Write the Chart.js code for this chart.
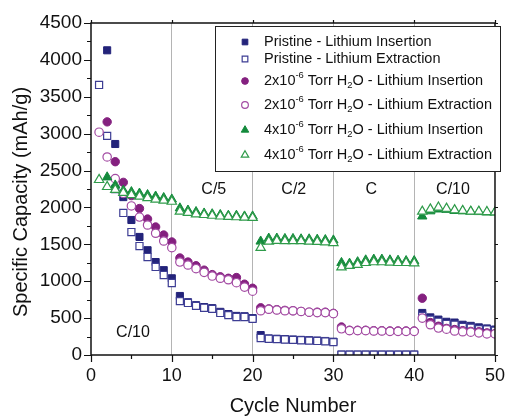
<!DOCTYPE html>
<html>
<head>
<meta charset="utf-8">
<script src="https://cdn.jsdelivr.net/npm/chart.js@4/dist/chart.umd.min.js"></script>
<style>
  html, body { margin: 0; padding: 0; background: #fff; }
  #wrap { width: 515px; height: 416px; position: relative; }
</style>
</head>
<body>
<div id="wrap"><canvas id="chart"></canvas></div>
<script>
// Capacity vs cycle number

const cycles = [];
for (let c = 1; c <= 50; c++) cycles.push(c);

const xTicks = [0, 10, 20, 30, 40, 50];
const yTicks = [0, 500, 1000, 1500, 2000, 2500, 3000, 3500, 4000, 4500];

const seriesNames = [
    'Pristine - Lithium Insertion',
    'Pristine - Lithium Extraction',
    '2x10-6 Torr H2O - Lithium Insertion',
    '2x10-6 Torr H2O - Lithium Extraction',
    '4x10-6 Torr H2O - Lithium Insertion',
    '4x10-6 Torr H2O - Lithium Extraction',
];

// values for cycles 1..50 (null = not shown)
const pristineInsertion = [
    null, 4130, 2860, 2140, 1830, 1600, 1420, 1260, 1150, 1040,
    800, 715, 675, 650, 635, 585, 555, 530, 525, 500,
    270, 225, 220, 215, 210, 205, 200, 195, 190, 180,
    5, 5, 5, 5, 5, 5, 5, 5, 5, 5,
    570, 510, 480, 450, 440, 410, 395, 375, 360, 345,
];
const pristineExtraction = [
    3660, 2970, 2250, 1925, 1667, 1477, 1328, 1193, 1084, 976,
    730, 705, 665, 640, 625, 570, 540, 515, 515, 490,
    230, 220, 215, 210, 205, 200, 195, 190, 185, 175,
    5, 5, 5, 5, 5, 5, 5, 5, 5, 5,
    530, 480, 450, 420, 410, 380, 370, 350, 345, 330,
];
const h2o2Insertion = [
    null, 3160, 2620, 2340, 2160, 1985, 1843, 1735, 1626, 1532,
    1315, 1260, 1210, 1150, 1090, 1060, 1040, 1050, 960, 905,
    640, 625, 615, 605, 600, 590, 580, 580, 580, 565,
    380, 335, 335, 335, 330, 330, 325, 325, 325, 325,
    770, 440, 390, 360, 345, 330, 320, 315, 300, 290,
];
const h2o2Extraction = [
    3020, 2684, 2390, 2190, 2020, 1870, 1762, 1650, 1545, 1455,
    1260, 1220, 1170, 1120, 1070, 1040, 1020, 980, 920, 865,
    600, 620, 610, 600, 600, 590, 580, 575, 575, 560,
    355, 330, 330, 330, 325, 325, 320, 320, 320, 320,
    500, 410, 365, 350, 325, 315, 310, 300, 285, 285,
];
const h2o4Insertion = [
    null, 2410, 2300, 2230, 2210, 2190, 2170, 2150, 2130, 2110,
    1990, 1960, 1940, 1920, 1910, 1900, 1890, 1890, 1880, 1880,
    1540, 1580, 1580, 1575, 1575, 1570, 1570, 1565, 1560, 1555,
    1250, 1240, 1260, 1285, 1295, 1295, 1285, 1280, 1275, 1275,
    1880, 1950, 1975, 1970, 1955, 1950, 1945, 1940, 1935, 1935,
];
const h2o4Extraction = [
    2375, 2280, 2240, 2200, 2170, 2150, 2130, 2110, 2095, 2080,
    1945, 1930, 1910, 1900, 1890, 1880, 1875, 1870, 1865, 1860,
    1455, 1540, 1550, 1545, 1545, 1545, 1540, 1535, 1530, 1520,
    1190, 1210, 1225, 1250, 1260, 1260, 1255, 1250, 1250, 1245,
    1945, 1975, 2000, 1985, 1965, 1955, 1945, 1945, 1940, 1935,
];

// rate labels: [text, cycle, capacity]
const rateLabels = [
    ['C/10', 5.2, 300],
    ['C/5', 15.2, 2240],
    ['C/2', 25.1, 2240],
    ['C', 34.7, 2240],
    ['C/10', 44.8, 2240],
];

const NAVY = '#23237a';
const PURPLE = '#84207f';
const GREEN = '#138a3c';
const FONT = '"Liberation Sans", Arial, sans-serif';

const styles = [
    { style: 'rect', fill: NAVY, stroke: NAVY, r: 5, bw: 1 },
    { style: 'rect', fill: '#ffffff', stroke: '#3d3d94', r: 5, bw: 1.2 },
    { style: 'circle', fill: PURPLE, stroke: PURPLE, r: 4.2, bw: 1 },
    { style: 'circle', fill: '#ffffff', stroke: '#a34ba3', r: 4.2, bw: 1.2 },
    { style: 'triangle', fill: GREEN, stroke: GREEN, r: 5.4, bw: 1 },
    { style: 'triangle', fill: '#ffffff', stroke: '#2f9b4a', r: 5.4, bw: 1.2 },
];

const allSeries = [pristineInsertion, pristineExtraction, h2o2Insertion,
    h2o2Extraction, h2o4Insertion, h2o4Extraction];

function toPoints(values) {
    const pts = [];
    values.forEach((v, i) => {
        if (v !== null) pts.push({ x: cycles[i], y: v });
    });
    return pts;
}

// Draw a string made of segments, supporting super/subscripts
function drawRich(ctx, x, y, parts, size) {
    let cx = x;
    for (const p of parts) {
        const s = p.small ? size * 0.65 : size;
        ctx.font = `${s}px ${FONT}`;
        const dy = p.sup ? -size * 0.42 : (p.sub ? size * 0.3 : 0);
        ctx.fillText(p.t, cx, y + dy);
        cx += ctx.measureText(p.t).width;
    }
}

function legendParts(i) {
    const pre = i < 2 ? null : (i < 4 ? '2x10' : '4x10');
    const tail = i % 2 === 0 ? ' - Lithium Insertion' : ' - Lithium Extraction';
    if (!pre) return [{ t: 'Pristine' + tail }];
    return [
        { t: pre },
        { t: '-6', small: true, sup: true },
        { t: ' Torr H' },
        { t: '2', small: true, sub: true },
        { t: 'O' + tail },
    ];
}

const framePlugin = {
    id: 'frame',
    afterDatasetsDraw(chart) {
        const ctx = chart.ctx;
        const a = chart.chartArea;
        const xs = chart.scales.x;
        const ys = chart.scales.y;
        ctx.save();

        // rate labels
        ctx.fillStyle = '#111';
        ctx.font = `16px ${FONT}`;
        ctx.textAlign = 'center';
        ctx.textBaseline = 'middle';
        for (const [t, cx, cy] of rateLabels) {
            ctx.fillText(t, xs.getPixelForValue(cx), ys.getPixelForValue(cy));
        }

        // frame
        ctx.strokeStyle = '#111';
        ctx.lineWidth = 1.5;
        ctx.strokeRect(a.left, a.top, a.right - a.left, a.bottom - a.top);

        // ticks
        ctx.lineWidth = 1.2;
        ctx.beginPath();
        for (let v = 0; v <= 4500; v += 250) {
            const py = Math.round(ys.getPixelForValue(v)) + 0.5;
            const len = v % 500 === 0 ? 7 : 4;
            ctx.moveTo(a.left, py); ctx.lineTo(a.left - len, py);
            ctx.moveTo(a.right, py); ctx.lineTo(a.right + (v % 500 === 0 ? 3 : 0), py);
        }
        for (let v = 0; v <= 50; v += 5) {
            const px = Math.round(xs.getPixelForValue(v)) + 0.5;
            const len = v % 10 === 0 ? 7 : 4;
            ctx.moveTo(px, a.bottom); ctx.lineTo(px, a.bottom + len);
            ctx.moveTo(px, a.top); ctx.lineTo(px, a.top - (v % 10 === 0 ? 3 : 0));
        }
        ctx.stroke();

        // axis titles
        ctx.fillStyle = '#111';
        ctx.font = `20px ${FONT}`;
        ctx.fillText('Cycle Number', (a.left + a.right) / 2, 406);
        ctx.save();
        ctx.translate(21, 202);
        ctx.rotate(-Math.PI / 2);
        ctx.fillText('Specific Capacity (mAh/g)', 0, 0);
        ctx.restore();

        // legend box
        const bx = 215, by = 26, bw = 285, bh = 145;
        ctx.fillStyle = '#fff';
        ctx.fillRect(bx, by, bw, bh);
        ctx.lineWidth = 1;
        ctx.strokeStyle = '#222';
        ctx.strokeRect(bx + 0.5, by + 0.5, bw, bh);
        const rowY = [42, 59, 81, 105, 130, 155];
        ctx.textAlign = 'left';
        for (let i = 0; i < 6; i++) {
            const st = styles[i];
            ctx.fillStyle = st.fill;
            ctx.strokeStyle = st.stroke;
            ctx.lineWidth = st.bw;
            Chart.helpers.drawPoint(ctx, {
                pointStyle: st.style,
                radius: st.r * 0.8,
                borderWidth: st.bw,
                rotation: 0,
            }, 245, rowY[i]);
            ctx.fillStyle = '#111';
            drawRich(ctx, 264, rowY[i], legendParts(i), 14.5);
        }
        ctx.restore();
    },
};

const datasets = allSeries.map((vals, i) => ({
    label: seriesNames[i],
    data: toPoints(vals),
    showLine: false,
    pointStyle: styles[i].style,
    pointRadius: styles[i].r,
    pointBackgroundColor: styles[i].fill,
    pointBorderColor: styles[i].stroke,
    pointBorderWidth: styles[i].bw,
    order: 6 - i,
}));

new Chart(document.getElementById('chart'), {
    type: 'scatter',
    data: { datasets },
    options: {
        responsive: true,
        maintainAspectRatio: false,
        animation: false,
        layout: { padding: { top: 23, right: 10, left: 0, bottom: 0 } },
        plugins: {
            legend: { display: false },
            tooltip: { enabled: false },
        },
        scales: {
            x: {
                type: 'linear',
                min: xTicks[0],
                max: xTicks[xTicks.length - 1],
                afterFit: (s) => { s.height = 61; },
                afterBuildTicks: (s) => { s.ticks = xTicks.map(v => ({ value: v })); },
                border: { display: false },
                grid: {
                    drawTicks: false,
                    color: (c) => (c.tick && c.tick.value > 0 && c.tick.value < 50) ? '#b4b4b4' : 'rgba(0,0,0,0)',
                    lineWidth: 1,
                },
                ticks: {
                    color: '#111',
                    padding: 10,
                    font: { family: FONT, size: 18 },
                    maxRotation: 0,
                    callback: (v) => String(v),
                },
            },
            y: {
                min: yTicks[0],
                max: yTicks[yTicks.length - 1],
                afterFit: (s) => { s.width = 91; },
                afterBuildTicks: (s) => { s.ticks = yTicks.map(v => ({ value: v })); },
                border: { display: false },
                grid: { display: false, drawTicks: false },
                ticks: {
                    color: '#111',
                    padding: 9,
                    font: { family: FONT, size: 19 },
                    callback: (v) => String(v),
                },
            },
        },
    },
    plugins: [framePlugin],
});
</script>
</body>
</html>
